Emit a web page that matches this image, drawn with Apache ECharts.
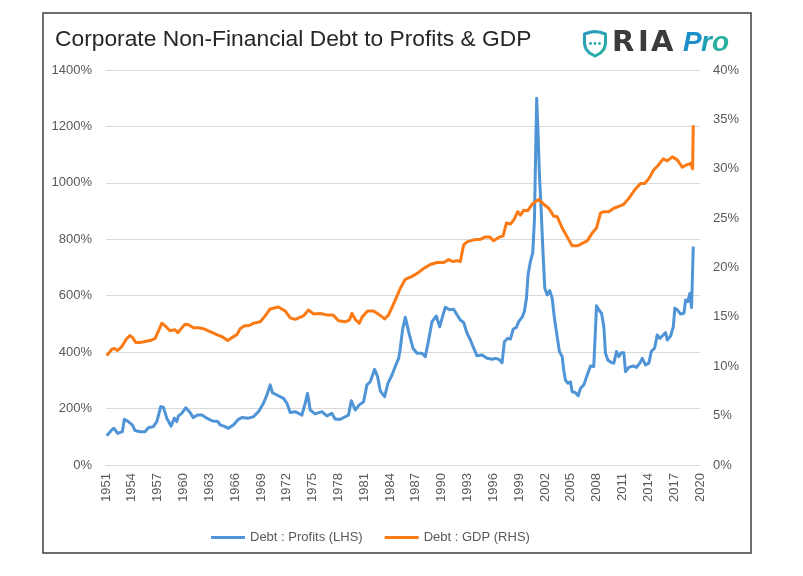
<!DOCTYPE html>
<html>
<head>
<meta charset="utf-8">
<script src="https://cdn.jsdelivr.net/npm/echarts@6/dist/echarts.min.js"></script>
<style>
html,body{margin:0;padding:0;background:#fff;}
#chart{width:803px;height:576px;}
</style>
</head>
<body>
<div id="chart"></div>
<script>
// ---- data ----
const titleText = 'Corporate Non-Financial Debt to Profits & GDP';
const seriesNames = ['Debt : Profits (LHS)', 'Debt : GDP (RHS)'];
const xStartYear = 1951;
const xEndYear = 2020;
const xTickStep = 3;
const leftMax = 1400, leftStep = 200;
const rightMax = 40, rightStep = 5;

const profitYears = [
  1951.08,1951.66,1951.93,1952.36,1952.90,1953.13,1953.59,1954.06,1954.37,1954.95,
  1955.53,1955.92,1956.50,1956.90,1957.36,1957.66,1958.06,1958.56,1958.94,1959.22,
  1959.41,1959.80,1960.27,1960.69,1961.15,1961.62,1962.13,1962.71,1963.36,1963.99,
  1964.26,1964.84,1965.22,1965.80,1966.38,1966.78,1967.55,1968.13,1968.71,1969.29,
  1969.69,1970.07,1970.34,1970.85,1971.62,1972.01,1972.40,1972.98,1973.76,1974.14,
  1974.41,1974.72,1975.30,1976.08,1976.66,1977.24,1977.63,1978.21,1978.79,1979.17,
  1979.49,1979.95,1980.42,1980.92,1981.31,1981.70,1982.20,1982.55,1982.86,1983.36,
  1983.76,1984.22,1984.60,1984.99,1985.15,1985.45,1985.77,1986.15,1986.66,1987.13,
  1987.71,1988.09,1988.48,1988.87,1989.37,1989.76,1990.15,1990.42,1990.92,1991.38,
  1991.78,1992.16,1992.55,1992.94,1993.33,1993.71,1994.10,1994.69,1995.27,1995.85,
  1996.23,1996.62,1997.01,1997.28,1997.66,1997.98,1998.29,1998.67,1998.94,1999.34,
  1999.60,1999.84,2000.03,2000.30,2000.57,2000.77,2000.92,2001.03,2001.20,2001.35,
  2001.55,2001.73,2001.97,2002.24,2002.55,2002.83,2003.09,2003.41,2003.67,2003.99,
  2004.17,2004.37,2004.64,2004.95,2005.15,2005.53,2005.85,2006.12,2006.50,2006.90,
  2007.28,2007.66,2007.86,2007.98,2008.24,2008.56,2008.83,2009.02,2009.29,2009.69,
  2009.99,2010.30,2010.57,2010.85,2011.15,2011.35,2011.73,2012.24,2012.63,2013.01,
  2013.29,2013.67,2014.06,2014.34,2014.72,2015.03,2015.34,2015.73,2016.00,2016.20,
  2016.58,2016.90,2017.08,2017.36,2017.74,2018.13,2018.33,2018.59,2018.83,2019.02,
  2019.22
];
const profitValues = [
  104,124,130,112,118,162,154,142,122,118,
  118,132,136,154,207,205,166,138,166,154,
  174,183,203,189,168,177,177,166,156,154,
  142,136,130,142,162,168,166,171,189,219,
  248,284,256,248,236,219,186,189,177,219,
  254,195,181,189,174,183,162,162,171,177,
  228,195,213,224,284,295,339,313,263,242,
  290,319,349,378,405,480,524,473,414,396,
  396,384,443,508,528,490,532,559,550,552,
  532,514,505,467,443,414,387,390,378,375,
  378,375,363,437,449,446,481,488,508,524,
  544,591,674,721,753,869,1129,1300,1164,1028,
  904,774,627,603,618,591,520,455,402,384,
  337,301,290,295,260,256,245,272,284,319,
  351,349,350,564,550,538,490,396,372,363,
  361,402,384,398,398,331,346,351,346,361,
  378,355,361,402,414,461,449,461,469,443,
  457,490,556,550,535,538,585,579,609,558,
  774
];

const gdpYears = [
  1951.08,1951.66,1951.97,1952.36,1952.83,1953.41,1953.79,1954.10,1954.45,1954.95,
  1955.53,1956.12,1956.70,1957.16,1957.48,1957.86,1958.44,1959.02,1959.34,1959.72,
  1960.19,1960.57,1961.15,1961.73,1962.31,1963.09,1963.87,1964.45,1965.15,1965.62,
  1966.20,1966.58,1967.08,1967.55,1968.13,1968.91,1969.49,1970.07,1971.03,1971.81,
  1972.40,1972.98,1973.94,1974.52,1975.10,1975.88,1976.66,1977.36,1978.01,1978.79,
  1979.29,1979.57,1979.95,1980.42,1980.73,1981.38,1982.08,1982.78,1983.36,1983.83,
  1984.60,1985.19,1985.77,1986.55,1987.31,1987.90,1988.67,1989.45,1990.22,1990.80,
  1991.31,1991.78,1992.16,1992.55,1992.94,1993.71,1994.49,1995.07,1995.57,1996.03,
  1996.62,1997.13,1997.51,1997.98,1998.36,1998.83,1999.14,1999.52,1999.99,2000.50,
  2001.27,2001.85,2002.43,2003.01,2003.41,2003.99,2004.57,2005.15,2005.80,2006.43,
  2006.90,2007.48,2007.98,2008.44,2008.83,2009.41,2009.99,2010.57,2011.15,2011.73,
  2012.40,2013.09,2013.56,2014.06,2014.64,2015.10,2015.73,2016.20,2016.78,2017.36,
  2017.94,2018.44,2018.91,2019.14,2019.22
];
const gdpValues = [
  11.07,11.7,11.8,11.6,12.0,12.8,13.1,12.9,12.4,12.4,
  12.5,12.6,12.8,13.7,14.35,14.1,13.6,13.7,13.4,13.8,
  14.25,14.2,13.9,13.9,13.8,13.5,13.2,13.0,12.6,12.9,
  13.2,13.8,14.1,14.1,14.35,14.5,15.1,15.8,16.0,15.6,
  14.9,14.75,15.1,15.7,15.3,15.35,15.2,15.2,14.6,14.5,
  14.7,15.35,14.75,14.35,14.96,15.6,15.6,15.2,14.8,15.2,
  16.7,17.9,18.8,19.1,19.5,19.9,20.3,20.5,20.5,20.8,
  20.6,20.7,20.6,22.3,22.6,22.8,22.85,23.1,23.1,22.7,
  23.05,23.2,24.5,24.4,24.8,25.65,25.3,25.8,25.75,26.4,
  26.9,26.4,26.0,25.2,25.15,24.0,23.1,22.2,22.2,22.5,
  22.7,23.5,24.0,25.5,25.65,25.65,26.0,26.2,26.4,27.0,
  27.85,28.5,28.5,29.0,29.9,30.3,31.0,30.8,31.2,30.9,
  30.15,30.4,30.55,30.0,34.4
];

// ---- build ----
const toPairs = (xs, ys) => xs.map((x, i) => [x - xStartYear, ys[i]]);
const blue = '#4f94d6';
const orange = '#fb7a14';
const labelColor = '#595959';
const font = '"Liberation Sans", Arial, sans-serif';
const pctFmt = v => v + '%';

const chart = echarts.init(document.getElementById('chart'), null, {renderer: 'canvas'});
const shieldGrad = {type: 'linear', x: 0, y: 0, x2: 1, y2: 1, colorStops: [
  {offset: 0, color: '#2596c4'}, {offset: 1, color: '#2db59a'}
]};
const logoFont = 'bold 29px "DejaVu Sans", sans-serif';
const proFont = 'italic bold 28px "Liberation Sans", Arial, sans-serif';

chart.setOption({
  animation: false,
  backgroundColor: '#fff',
  grid: {left: 106, right: 103, top: 70, bottom: 111, containLabel: false},
  xAxis: {
    type: 'value',
    min: 0, max: xEndYear - xStartYear, interval: xTickStep,
    axisLine: {show: true, lineStyle: {color: '#d9d9d9', width: 1}},
    axisTick: {show: false},
    splitLine: {show: false},
    axisLabel: {
      rotate: 90, margin: 8, color: labelColor, fontSize: 13, fontFamily: font,
      formatter: v => String(v + xStartYear)
    }
  },
  yAxis: [
    {
      type: 'value', min: 0, max: leftMax, interval: leftStep,
      axisLine: {show: false}, axisTick: {show: false},
      splitLine: {show: true, lineStyle: {color: '#d9d9d9', width: 1}},
      axisLabel: {margin: 14, color: labelColor, fontSize: 13, fontFamily: font, formatter: pctFmt}
    },
    {
      type: 'value', min: 0, max: rightMax, interval: rightStep, position: 'right',
      axisLine: {show: false}, axisTick: {show: false},
      splitLine: {show: false},
      axisLabel: {margin: 13, color: labelColor, fontSize: 13, fontFamily: font, formatter: pctFmt}
    }
  ],
  legend: {
    left: 206, top: 526,
    itemWidth: 34, itemHeight: 3, itemGap: 22,
    icon: 'rect',
    data: seriesNames,
    textStyle: {color: labelColor, fontSize: 13, fontFamily: font}
  },
  series: [
    {
      name: seriesNames[0], type: 'line', yAxisIndex: 0,
      data: toPairs(profitYears, profitValues),
      showSymbol: false, symbol: 'none',
      lineStyle: {color: blue, width: 3, join: 'round'},
      itemStyle: {color: blue}
    },
    {
      name: seriesNames[1], type: 'line', yAxisIndex: 1,
      data: toPairs(gdpYears, gdpValues),
      showSymbol: false, symbol: 'none',
      lineStyle: {color: orange, width: 3, join: 'round'},
      itemStyle: {color: orange}
    }
  ],
  graphic: [
    {type: 'rect', shape: {x: 43, y: 13, width: 708, height: 540}, style: {fill: 'none', stroke: '#3f3f3f', lineWidth: 1.5}, silent: true},
    {type: 'text', x: 55, y: 40, style: {text: titleText, fill: '#262626', font: '22.8px ' + font, textVerticalAlign: 'middle', textAlign: 'left'}},
    {type: 'polygon', shape: {points: [[584.5,34],[590,32.2],[595,31.6],[600,32.2],[605.5,34],[605.5,44],[604,49],[600.5,53],[595,56],[589.5,53],[586,49],[584.5,44]]}, style: {fill: 'none', stroke: shieldGrad, lineWidth: 3, lineJoin: 'round'}},
    {type: 'circle', shape: {cx: 590.5, cy: 43.5, r: 1.4}, style: {fill: '#2a9fb8'}},
    {type: 'circle', shape: {cx: 595, cy: 43.5, r: 1.4}, style: {fill: '#2aa5b0'}},
    {type: 'circle', shape: {cx: 599.5, cy: 43.5, r: 1.4}, style: {fill: '#2aabab'}},
    {type: 'text', x: 612, y: 43, style: {text: 'R', fill: '#3b3b3b', font: logoFont, textVerticalAlign: 'middle'}},
    {type: 'text', x: 638, y: 43, style: {text: 'I', fill: '#3b3b3b', font: logoFont, textVerticalAlign: 'middle'}},
    {type: 'text', x: 651, y: 43, style: {text: 'A', fill: '#3b3b3b', font: logoFont, textVerticalAlign: 'middle'}},
    {type: 'text', x: 683, y: 43, style: {text: 'P', fill: '#1b8fca', font: proFont, textVerticalAlign: 'middle'}},
    {type: 'text', x: 701, y: 43, style: {text: 'r', fill: '#219fb6', font: proFont, textVerticalAlign: 'middle'}},
    {type: 'text', x: 712, y: 43, style: {text: 'o', fill: '#29b09e', font: proFont, textVerticalAlign: 'middle'}}
  ]
});
</script>
</body>
</html>
